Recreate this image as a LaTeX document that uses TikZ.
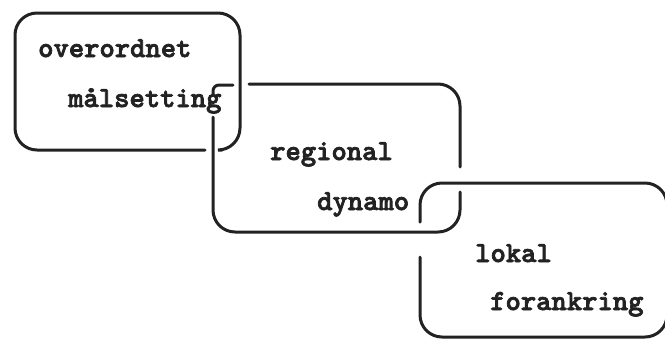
\documentclass[tikz,border=0pt]{standalone}
\usepackage{fontspec}
\newfontfamily\typewriter{lmmonolt10-bold.otf}[FakeBold=2.5]
\usepackage{xcolor}
\definecolor{ink}{HTML}{222222}

\begin{document}
\begin{tikzpicture}[
    x=1bp, y=-1bp,
    link/.style={draw=ink, line width=3bp, rounded corners=22bp, line cap=round},
    hook/.style={link, rounded corners=6bp},
    word/.style={anchor=base west, inner sep=0pt, text=ink, font=\typewriter\fontsize{29.3}{32}\selectfont}
]
    \useasboundingbox (0,0) rectangle (665,343);

    % the three words, two lines each
    \node[word] (over) at (38,57) {overordnet};
    \node[word] (maal) at (68,107) {målsetting};
    \node[word] (regi) at (270,160) {regional};
    \node[word] (dyna) at (317,210) {dynamo};
    \node[word] (loka) at (475,262) {lokal};
    \node[word] (fora) at (490,310) {forankring};

    % first link: bottom broken where the second link passes over it
    \draw[link] (205,150) -- (15,150) -- (15,13) -- (240,13) -- (240,150) -- (222,150);

    % second link: top broken under the first, right side broken under the third
    \draw[hook] (233,85) -- (213,85) -- (213,94);
    \draw[link] (249,84) -- (460,84) -- (460,167);
    \draw[link] (460,192) -- (460,232) -- (213,232) -- (213,117);

    % third link: left side broken under the second
    \draw[link] (420,222) -- (420,183) -- (667,183) -- (667,337) -- (420,337) -- (420,257);
\end{tikzpicture}
\end{document}
